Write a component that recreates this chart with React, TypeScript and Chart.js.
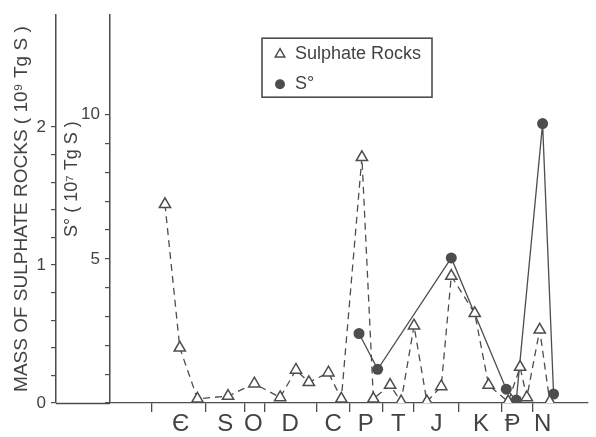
import React, { useEffect, useRef } from 'react';
import { Chart, registerables } from 'chart.js';

Chart.register(...registerables);

// Geological periods along the (non-uniform) time axis, position in % of axis length
const periodLabels = ['Є', 'S', 'O', 'D', 'C', 'P', 'T', 'J', 'K', 'Ᵽ', 'N'];
const periodLabelPositions = [14.8, 24.1, 30.0, 37.7, 46.7, 53.5, 60.3, 68.3, 77.6, 84.2, 90.5];
const periodBoundaries = [8.8, 20.0, 28.2, 32.3, 43.2, 50.2, 57.0, 63.6, 73.0, 81.9, 88.5];

// Sulphate rocks (10^9 Tg S)
const sulphateX = [11.5, 14.6, 18.3, 24.7, 30.2, 35.6, 38.9, 41.6, 45.7, 48.4, 52.7, 55.1, 58.6, 60.9, 63.6, 66.3, 69.3, 71.4, 76.3, 79.2, 83.3, 85.8, 87.2, 89.9, 92.0];
const sulphateMass = [1.44, 0.40, 0.03, 0.05, 0.14, 0.04, 0.24, 0.15, 0.22, 0.03, 1.78, 0.03, 0.13, 0.01, 0.56, 0.01, 0.12, 0.92, 0.65, 0.13, 0.01, 0.26, 0.04, 0.53, 0.01];

// Elemental sulphur S° (10^7 Tg S)
const sulfurX = [52.1, 56.0, 71.4, 82.9, 85.0, 90.5, 92.8];
const sulfurMass = [2.41, 1.17, 5.03, 0.48, 0.10, 9.69, 0.31];

// Axis ticks
const massTicks = [0, 0.2, 0.4, 0.6, 0.8, 1.0, 1.2, 1.4, 1.6, 1.8, 2.0];
const massTickLabels = ['0', '', '', '', '', '1', '', '', '', '', '2'];
const sulfurTicks = [0, 1, 2, 3, 4, 5, 6, 7, 8, 9, 10];
const sulfurTickLabels = ['', '', '', '', '', '5', '', '', '', '', '10'];

const LINE = '#4d4d4d';
const TEXT = '#434343';
const FONT = '"Liberation Sans", Arial, "DejaVu Sans", sans-serif';

const baselineExtension = {
  id: 'baselineExtension',
  afterDraw(chart: any) {
    const { ctx, chartArea } = chart;
    const mass = chart.scales.mass;
    const y = Math.round(mass.getPixelForValue(0)) + 0.5;
    ctx.save();
    ctx.strokeStyle = LINE;
    ctx.lineWidth = 1.3;
    ctx.beginPath();
    ctx.moveTo(mass.right, y);
    ctx.lineTo(chartArea.left, y);
    ctx.stroke();
    ctx.restore();
  },
};

const insideLegend = {
  id: 'insideLegend',
  afterDraw(chart: any) {
    const { ctx, chartArea } = chart;
    const x0 = chartArea.left + 152;
    const y0 = chartArea.top + 23;
    const w = 170;
    const h = 59;
    ctx.save();
    ctx.strokeStyle = LINE;
    ctx.lineWidth = 1.6;
    ctx.strokeRect(x0, y0, w, h);
    chart.data.datasets.forEach((ds: any, i: number) => {
      const cx = x0 + 18;
      const cy = y0 + 16 + i * 30;
      ctx.beginPath();
      if (ds.pointStyle === 'triangle') {
        const r = 5.5;
        ctx.moveTo(cx, cy - r);
        ctx.lineTo(cx + r * 0.866, cy + r * 0.5);
        ctx.lineTo(cx - r * 0.866, cy + r * 0.5);
        ctx.closePath();
        ctx.fillStyle = '#fff';
        ctx.fill();
        ctx.lineWidth = 1.5;
        ctx.stroke();
      } else {
        ctx.arc(cx, cy, 5, 0, Math.PI * 2);
        ctx.fillStyle = LINE;
        ctx.fill();
      }
      ctx.fillStyle = TEXT;
      ctx.font = `18px ${FONT}`;
      ctx.textBaseline = 'middle';
      ctx.textAlign = 'left';
      ctx.fillText(ds.label, x0 + 33, cy);
    });
    ctx.restore();
  },
};

export default function App() {
  const ref = useRef<HTMLCanvasElement>(null);

  useEffect(() => {
    document.body.style.margin = '0';
    const canvas = ref.current!;
    const chart = new Chart(canvas, {
      type: 'line',
      data: {
        datasets: [
          {
            label: 'Sulphate Rocks',
            data: sulphateX.map((x, i) => ({ x, y: sulphateMass[i] })),
            yAxisID: 'mass',
            borderColor: LINE,
            borderWidth: 1.3,
            borderDash: [7, 5],
            pointStyle: 'triangle',
            pointRadius: 6.5,
            pointBorderWidth: 1.5,
            pointBorderColor: LINE,
            pointBackgroundColor: '#ffffff',
            tension: 0,
            fill: false,
          } as any,
          {
            label: 'S°',
            data: sulfurX.map((x, i) => ({ x, y: sulfurMass[i] })),
            yAxisID: 'sulfur',
            borderColor: LINE,
            borderWidth: 1.3,
            pointStyle: 'circle',
            pointRadius: 5.5,
            pointBorderWidth: 0,
            pointBackgroundColor: LINE,
            tension: 0,
            fill: false,
          } as any,
        ],
      },
      options: {
        animation: false,
        responsive: false,
        devicePixelRatio: 1,
        layout: { padding: { top: 13, left: 0, right: 0, bottom: 0 } },
        plugins: {
          legend: { display: false },
          tooltip: { enabled: false },
        },
        scales: {
          x: {
            type: 'linear',
            position: 'bottom',
            min: 0,
            max: 100,
            afterBuildTicks: (s: any) => {
              s.ticks = [...periodBoundaries, ...periodLabelPositions]
                .sort((a, b) => a - b)
                .map((v) => ({ value: v }));
            },
            afterFit: (s: any) => {
              s.height = 34;
            },
            grid: {
              drawOnChartArea: false,
              drawTicks: true,
              tickLength: 9,
              lineWidth: 1.3,
              tickColor: (c: any) =>
                c.tick && periodBoundaries.includes(c.tick.value) ? LINE : 'rgba(0,0,0,0)',
            },
            border: { color: LINE, width: 1.3 },
            ticks: {
              autoSkip: false,
              maxRotation: 0,
              minRotation: 0,
              padding: 0,
              color: TEXT,
              font: { family: FONT, size: 24, lineHeight: 1 },
              callback: (v: any) => {
                const i = periodLabelPositions.indexOf(v);
                return i >= 0 ? periodLabels[i] : '';
              },
            },
          } as any,
          mass: {
            type: 'linear',
            position: 'left',
            weight: 1,
            min: 0,
            max: 2.81,
            afterBuildTicks: (s: any) => {
              s.ticks = massTicks.map((v) => ({ value: v }));
            },
            afterFit: (s: any) => {
              s.width = 56;
            },
            grid: { drawOnChartArea: false, tickLength: 5, color: LINE, lineWidth: 1.2 },
            border: { color: LINE, width: 1.5 },
            ticks: {
              autoSkip: false,
              padding: 5,
              color: TEXT,
              font: { family: FONT, size: 17 },
              callback: (_v: any, i: number) => massTickLabels[i],
            },
            title: {
              display: true,
              text: 'MASS OF SULPHATE ROCKS ( 10⁹ Tg S )',
              color: TEXT,
              font: { family: FONT, size: 19 },
              padding: { top: 10, bottom: 0 },
            },
          } as any,
          sulfur: {
            type: 'linear',
            position: 'left',
            weight: 0,
            min: 0,
            max: 13.45,
            afterBuildTicks: (s: any) => {
              s.ticks = sulfurTicks.map((v) => ({ value: v }));
            },
            afterFit: (s: any) => {
              s.width = 54;
            },
            grid: { drawOnChartArea: false, tickLength: 5, color: LINE, lineWidth: 1.2 },
            border: { color: LINE, width: 1.5 },
            ticks: {
              autoSkip: false,
              padding: 5,
              color: TEXT,
              font: { family: FONT, size: 17 },
              callback: (_v: any, i: number) => sulfurTickLabels[i],
            },
            title: {
              display: true,
              text: '\u00A0'.repeat(12) + 'S° ( 10⁷ Tg S )',
              color: TEXT,
              font: { family: FONT, size: 18 },
              padding: { top: 5, bottom: 0 },
            },
          } as any,
        },
      },
      plugins: [baselineExtension, insideLegend],
    });
    return () => chart.destroy();
  }, []);

  return <canvas ref={ref} width={596} height={437} style={{ display: 'block' }} />;
}
